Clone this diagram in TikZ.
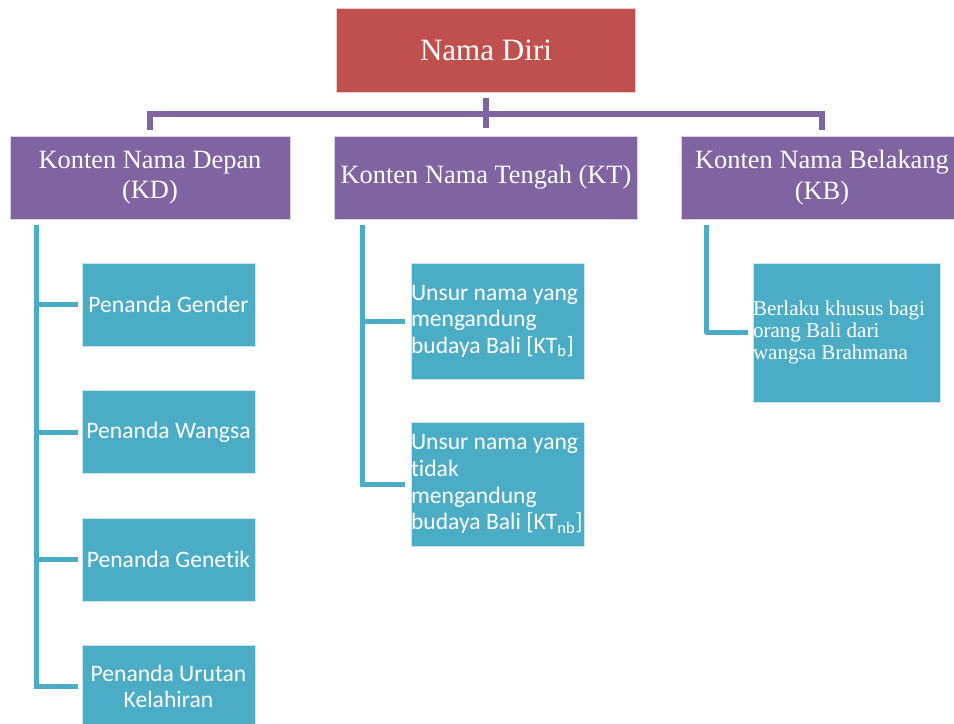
\documentclass[tikz,border=0pt]{standalone}
\usepackage{fontspec}
\setmainfont{Liberation Serif}
\newfontfamily\calibri[Ligatures=NoCommon]{Carlito}
\usepackage{xcolor}
\usetikzlibrary{positioning,calc}

\definecolor{rootred}{HTML}{C0504D}
\definecolor{headpurple}{HTML}{8064A2}
\definecolor{leafteal}{HTML}{4BACC6}

\begin{document}
\begin{tikzpicture}[
    x=0.75pt, y=-0.75pt,
    root/.style={rectangle, fill=rootred, draw=white!70!rootred, line width=0.6pt,
                 minimum width=224.25pt, minimum height=63pt, text=white,
                 font=\fontsize{23.3}{26}\selectfont},
    head/.style={rectangle, fill=headpurple, draw=white!70!headpurple, line width=0.6pt,
                 minimum height=62.25pt, text=white, align=center,
                 font=\fontsize{19.8}{23}\selectfont},
    leaf/.style={rectangle, fill=leafteal, draw=white!70!leafteal, line width=0.6pt,
                 minimum width=129.75pt, minimum height=62.25pt, text=white,
                 align=center, font=\calibri\fontsize{17.7}{20}\selectfont},
    leafl/.style={leaf, align=flush left, text width=129.75pt, inner xsep=0pt},
    pline/.style={draw=headpurple, line width=4.5pt},
    tline/.style={draw=leafteal, line width=3.75pt},
]
\useasboundingbox (0,0) rectangle (954,724);
\clip (0,0) rectangle (954,724);

% top
\node[root] (nd) at (486,50) {Nama Diri};

% headers
\node[head, minimum width=210pt] (kd) at (150,177.5) {Konten Nama Depan\\(KD)};
\node[head, minimum width=227.25pt] (kt) at (486,177.5) {Konten Nama Tengah (KT)};
\node[head, minimum width=211.5pt] (kb) at (822,177.5) {Konten Nama Belakang\\(KB)};

\coordinate (bus) at (486,114);
\draw[pline] ($(nd.south)+(0,6)$) -- ($(kt.north)+(0,-8)$);
\draw[pline] ($(kd.north)+(0,-6)$) |- (bus) -| ($(kb.north)+(0,-6)$);

% KD
\node[leaf] (gender) at (168.5,304.5) {Penanda Gender};
\node[leaf] (wangsa) at (168.5,432) {Penanda Wangsa};
\node[leaf] (genetik) at (168.5,559.5) {Penanda Genetik};
\node[leaf] (urutan) at (168.5,686.5) {Penanda Urutan\\Kelahiran};
\foreach \c in {gender,wangsa,genetik,urutan}
  \draw[tline] ($(kd.south west)+(27,6)$) |- ($(\c.west)+(-4,0)$);

% KT
\node[leafl, minimum height=87pt] (ktb) at (497.5,321)
  {Unsur nama yang\\mengandung\\budaya~Bali~[KT\textsubscript{b}]};
\node[leafl, minimum height=93pt] (ktnb) at (497.5,484)
  {Unsur nama yang\\tidak\\mengandung\\budaya~Bali~[KT\textsubscript{nb}]};
\foreach \c in {ktb,ktnb}
  \draw[tline] ($(kt.south west)+(28,6)$) |- ($(\c.west)+(-6,0)$);

% KB
\node[leafl, text width=140.25pt, minimum height=104.25pt,
      font=\fontsize{15.8}{16.5}\selectfont] (brahmana) at (846.5,332.5)
  {Berlaku khusus bagi\\orang Bali dari\\wangsa Brahmana};
\draw[tline, line join=round] ($(kb.south west)+(26,6)$) |- ($(brahmana.west)+(-5,0)$);
\end{tikzpicture}
\end{document}
